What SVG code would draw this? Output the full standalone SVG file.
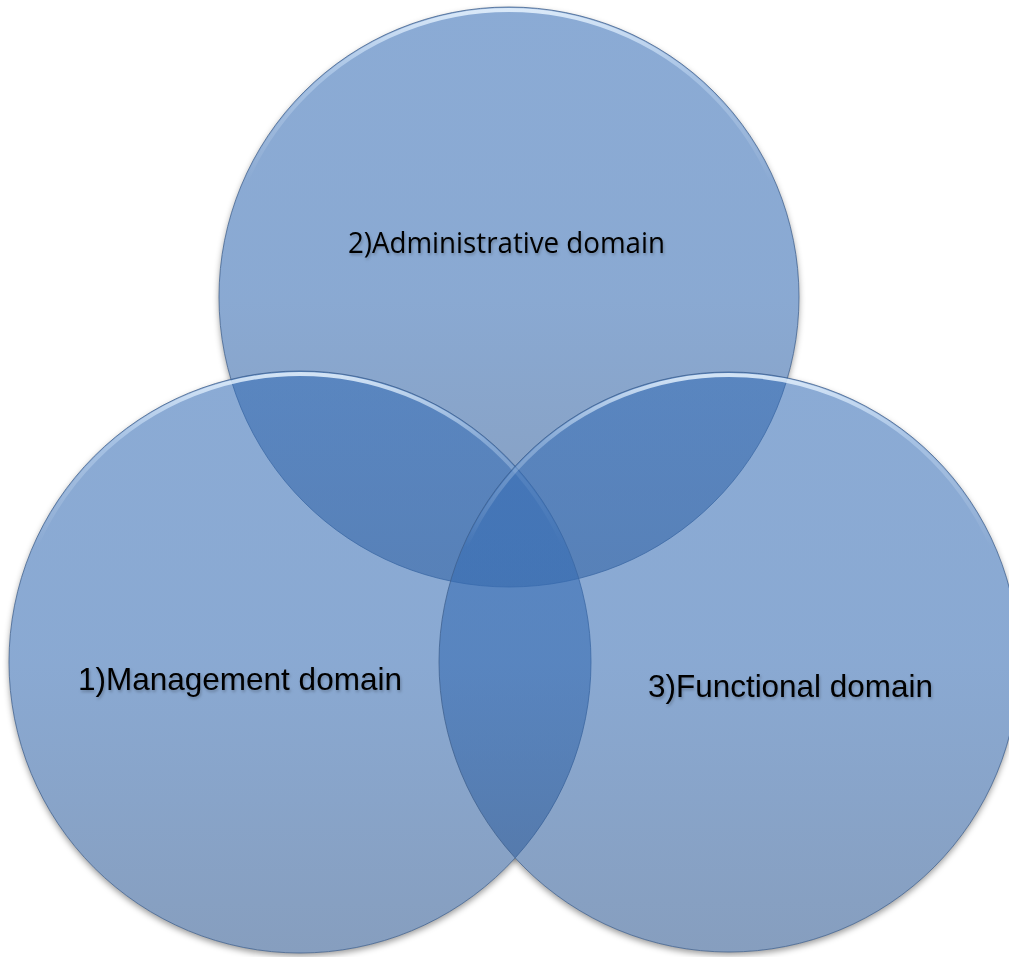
<svg xmlns="http://www.w3.org/2000/svg" width="1009" height="957" viewBox="0 0 1009 957">
  <style>
    .disc { fill: url(#fillGrad); fill-opacity: 0.58; stroke: #3d5f8c; stroke-opacity: 0.75; stroke-width: 1; }
    .hl { fill: none; stroke: url(#hlGrad); stroke-width: 4; }
    .lbl { fill: #000000; filter: url(#txtShadow); }
    .arial { font-family: "Liberation Sans", Arial, sans-serif; font-size: 31.5px; }
    .calibri { font-family: "Open Sans", "Noto Sans", sans-serif; font-size: 30px; }
  </style>
  <defs>
    <linearGradient id="fillGrad" x1="0" y1="0" x2="0" y2="1">
      <stop offset="0" stop-color="#376eb6"/>
      <stop offset="0.5" stop-color="#356bb2"/>
      <stop offset="1" stop-color="#2f5890"/>
    </linearGradient>
    <linearGradient id="hlGrad" x1="0" y1="0" x2="0" y2="1">
      <stop offset="0" stop-color="#e8f4ff" stop-opacity="0.85"/>
      <stop offset="0.12" stop-color="#d6eaff" stop-opacity="0.35"/>
      <stop offset="0.3" stop-color="#ffffff" stop-opacity="0"/>
      <stop offset="1" stop-color="#ffffff" stop-opacity="0"/>
    </linearGradient>
    <filter id="blur" x="-10%" y="-10%" width="120%" height="120%">
      <feGaussianBlur stdDeviation="3"/>
    </filter>
    <filter id="txtShadow" x="-5%" y="-30%" width="110%" height="160%">
      <feDropShadow dx="1" dy="2" stdDeviation="1.5" flood-color="#000000" flood-opacity="0.25"/>
    </filter>
    <mask id="outside" maskUnits="userSpaceOnUse" x="0" y="0" width="1009" height="957">
      <rect x="0" y="0" width="1009" height="957" fill="#ffffff"/>
      <circle cx="509" cy="297" r="290" fill="#000000"/>
      <circle cx="300" cy="662" r="291" fill="#000000"/>
      <circle cx="729" cy="662" r="290" fill="#000000"/>
    </mask>
  </defs>

  <rect x="0" y="0" width="1009" height="957" fill="#ffffff"/>

  <g id="shadows" mask="url(#outside)" filter="url(#blur)" fill="#000000" fill-opacity="0.4">
    <circle cx="509" cy="300" r="290"/>
    <circle cx="300" cy="665" r="291"/>
    <circle cx="729" cy="665" r="290"/>
  </g>

  <g id="node-administrative">
    <circle class="disc" cx="509" cy="297" r="290"/>
    <circle class="hl" cx="509" cy="297" r="287"/>
    <text class="lbl calibri" x="348" y="253" textLength="317" lengthAdjust="spacingAndGlyphs">2)Administrative domain</text>
  </g>

  <g id="node-management">
    <circle class="disc" cx="300" cy="662" r="291"/>
    <circle class="hl" cx="300" cy="662" r="288"/>
    <text class="lbl arial" x="78" y="690">1)Management domain</text>
  </g>

  <g id="node-functional">
    <circle class="disc" cx="729" cy="662" r="290"/>
    <circle class="hl" cx="729" cy="662" r="287"/>
    <text class="lbl arial" x="648" y="697" textLength="285" lengthAdjust="spacingAndGlyphs">3)Functional domain</text>
  </g>

  <g id="connectors"/>
</svg>
